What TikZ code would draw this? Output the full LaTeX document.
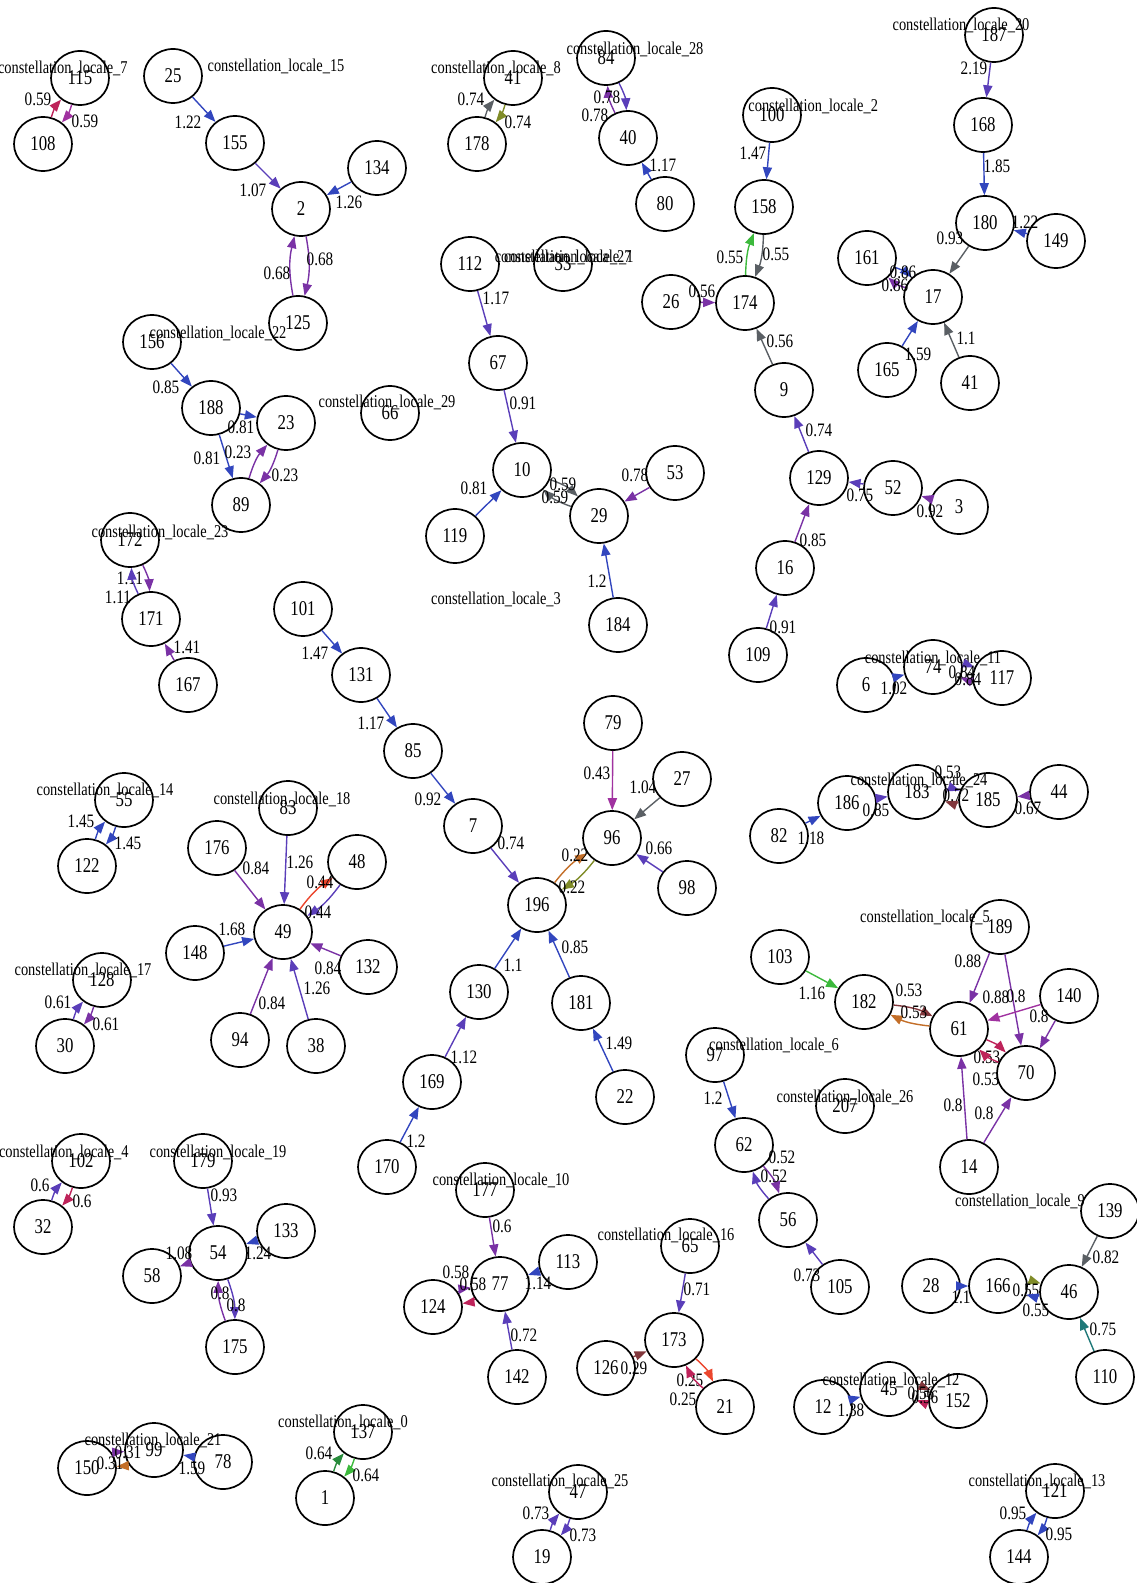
\documentclass[tikz,border=0pt]{standalone}
\usepackage{fontspec}
\setmainfont{Liberation Serif}[FakeStretch=0.8]
\usetikzlibrary{shapes.geometric,arrows.meta}
\definecolor{eblue}{RGB}{50,70,190}
\definecolor{eviolet}{RGB}{90,62,185}
\definecolor{epurple}{RGB}{122,50,165}
\definecolor{emagenta}{RGB}{160,50,160}
\definecolor{egray}{RGB}{90,95,100}
\definecolor{eolive}{RGB}{128,140,40}
\definecolor{egreen}{RGB}{60,185,60}
\definecolor{edkgreen}{RGB}{40,140,60}
\definecolor{ecrimson}{RGB}{190,35,90}
\definecolor{eorange}{RGB}{195,110,40}
\definecolor{ebrown}{RGB}{130,55,60}
\definecolor{ered}{RGB}{235,70,45}
\definecolor{eteal}{RGB}{30,120,120}
\tikzset{
  nd/.style={ellipse, draw, line width=0.85pt, minimum width=29pt, minimum height=27pt, inner sep=0pt, font=\fontsize{10.5}{11}\selectfont},
  ed/.style={line width=0.7pt, -{Triangle[length=6pt,width=4.6pt]}},
  lb/.style={inner sep=0pt, font=\fontsize{9.5}{10}\selectfont},
  cl/.style={inner sep=0pt, font=\fontsize{9}{10}\selectfont}
}
\newcommand\N[4]{\node[nd] (#1) at (#2,#3) {#4};}
\newcommand\ED[7]{\draw[ed,#3] (#1) to[#7] (#2); \node[lb] (L#1#2) at (#5,#6) {#4};}
\begin{document}
\begin{tikzpicture}[x=0.5pt,y=-0.5pt]
\useasboundingbox (0,0) rectangle (1136,1583);
% nodes
\N{n115}{80}{78}{115}
\N{n108}{43}{144}{108}
\N{n25}{173}{76}{25}
\N{n155}{235}{143}{155}
\N{n2}{301}{209}{2}
\N{n134}{377}{168}{134}
\N{n125}{298}{323}{125}
\N{n156}{152}{342}{156}
\N{n188}{211}{408}{188}
\N{n23}{286}{423}{23}
\N{n89}{241}{505}{89}
\N{n66}{390}{413}{66}
\N{n172}{130}{540}{172}
\N{n171}{151}{619}{171}
\N{n167}{188}{685}{167}
\N{n101}{303}{609}{101}
\N{n131}{361}{675}{131}
\N{n85}{413}{751}{85}
\N{n7}{473}{826}{7}
\N{n196}{537}{905}{196}
\N{n79}{613}{723}{79}
\N{n96}{612}{838}{96}
\N{n27}{682}{779}{27}
\N{n98}{687}{888}{98}
\N{n130}{479}{992}{130}
\N{n181}{581}{1003}{181}
\N{n169}{432}{1082}{169}
\N{n22}{625}{1097}{22}
\N{n170}{387}{1167}{170}
\N{n41}{513}{78}{41}
\N{n178}{477}{144}{178}
\N{n84}{606}{58}{84}
\N{n40}{628}{138}{40}
\N{n80}{665}{204}{80}
\N{n100}{772}{115}{100}
\N{n158}{764}{207}{158}
\N{n174}{745}{303}{174}
\N{n26}{671}{302}{26}
\N{n9}{784}{390}{9}
\N{n112}{470}{264}{112}
\N{n33}{563}{264}{33}
\N{n67}{498}{363}{67}
\N{n10}{522}{470}{10}
\N{n29}{599}{516}{29}
\N{n53}{675}{473}{53}
\N{n119}{455}{536}{119}
\N{n184}{618}{625}{184}
\N{n187}{994}{35}{187}
\N{n168}{983}{125}{168}
\N{n180}{985}{223}{180}
\N{n149}{1056}{241}{149}
\N{n17}{933}{297}{17}
\N{n161}{867}{258}{161}
\N{n165}{887}{370}{165}
\N{n41b}{970}{383}{41}
\N{n129}{819}{478}{129}
\N{n52}{893}{488}{52}
\N{n3}{959}{507}{3}
\N{n16}{785}{568}{16}
\N{n109}{758}{655}{109}
\N{n6}{866}{685}{6}
\N{n74}{933}{667}{74}
\N{n117}{1002}{678}{117}
\N{n55}{124}{800}{55}
\N{n122}{87}{866}{122}
\N{n83}{288}{808}{83}
\N{n176}{217}{848}{176}
\N{n48}{357}{862}{48}
\N{n49}{283}{932}{49}
\N{n148}{195}{953}{148}
\N{n132}{368}{967}{132}
\N{n94}{240}{1040}{94}
\N{n38}{316}{1046}{38}
\N{n128}{102}{980}{128}
\N{n30}{65}{1046}{30}
\N{n82}{779}{836}{82}
\N{n186}{847}{803}{186}
\N{n183}{917}{792}{183}
\N{n185}{988}{800}{185}
\N{n44}{1059}{792}{44}
\N{n189}{1000}{927}{189}
\N{n103}{780}{957}{103}
\N{n182}{864}{1002}{182}
\N{n61}{959}{1029}{61}
\N{n140}{1069}{996}{140}
\N{n70}{1026}{1073}{70}
\N{n14}{969}{1167}{14}
\N{n207}{845}{1106}{207}
\N{n97}{715}{1055}{97}
\N{n62}{744}{1145}{62}
\N{n56}{788}{1220}{56}
\N{n105}{840}{1287}{105}
\N{n102}{81}{1161}{102}
\N{n32}{43}{1227}{32}
\N{n179}{203}{1161}{179}
\N{n54}{218}{1253}{54}
\N{n133}{286}{1231}{133}
\N{n58}{152}{1276}{58}
\N{n175}{235}{1347}{175}
\N{n150}{87}{1468}{150}
\N{n99}{154}{1450}{99}
\N{n78}{223}{1462}{78}
\N{n137}{363}{1432}{137}
\N{n1}{325}{1498}{1}
\N{n177}{485}{1190}{177}
\N{n77}{500}{1284}{77}
\N{n113}{568}{1262}{113}
\N{n124}{433}{1307}{124}
\N{n142}{517}{1377}{142}
\N{n65}{690}{1246}{65}
\N{n173}{674}{1340}{173}
\N{n126}{606}{1368}{126}
\N{n21}{725}{1407}{21}
\N{n47}{578}{1492}{47}
\N{n19}{542}{1557}{19}
\N{n139}{1110}{1211}{139}
\N{n46}{1069}{1292}{46}
\N{n166}{998}{1286}{166}
\N{n28}{931}{1286}{28}
\N{n110}{1105}{1377}{110}
\N{n12}{823}{1407}{12}
\N{n45}{889}{1389}{45}
\N{n152}{958}{1401}{152}
\N{n121}{1055}{1491}{121}
\N{n144}{1019}{1557}{144}
% cluster labels
\node[cl,anchor=east] (c7) at (128,68) {constellation\_locale\_7};
\node[cl] (c15) at (276,66) {constellation\_locale\_15};
\node[cl] (c22) at (218,333) {constellation\_locale\_22};
\node[cl] (c29) at (387,402) {constellation\_locale\_29};
\node[cl] (c23) at (160,532) {constellation\_locale\_23};
\node[cl] (c8) at (496,68) {constellation\_locale\_8};
\node[cl] (c28) at (635,49) {constellation\_locale\_28};
\node[cl,anchor=west] (c2) at (748,106) {constellation\_locale\_2};
\node[cl,anchor=east] (c27) at (632,257) {constellation\_locale\_27};
\node[cl,anchor=east] (c1) at (634,257) {constellation\_locale\_1};
\node[cl] (c20) at (961,25) {constellation\_locale\_20};
\node[cl] (c3) at (496,599) {constellation\_locale\_3};
\node[cl] (c11) at (933,658) {constellation\_locale\_11};
\node[cl] (c14) at (105,790) {constellation\_locale\_14};
\node[cl] (c18) at (282,799) {constellation\_locale\_18};
\node[cl] (c17) at (83,970) {constellation\_locale\_17};
\node[cl] (c24) at (919,780) {constellation\_locale\_24};
\node[cl] (c5) at (925,917) {constellation\_locale\_5};
\node[cl] (c6) at (774,1045) {constellation\_locale\_6};
\node[cl] (c26) at (845,1097) {constellation\_locale\_26};
\node[cl,anchor=east] (c4) at (129,1152) {constellation\_locale\_4};
\node[cl] (c19) at (218,1152) {constellation\_locale\_19};
\node[cl] (c10) at (501,1180) {constellation\_locale\_10};
\node[cl] (c16) at (666,1235) {constellation\_locale\_16};
\node[cl] (c9) at (1020,1201) {constellation\_locale\_9};
\node[cl] (c21) at (153,1440) {constellation\_locale\_21};
\node[cl] (c0) at (343,1422) {constellation\_locale\_0};
\node[cl] (c12) at (891,1380) {constellation\_locale\_12};
\node[cl] (c25) at (560,1481) {constellation\_locale\_25};
\node[cl] (c13) at (1037,1481) {constellation\_locale\_13};
% edges
\ED{n108}{n115}{ecrimson}{0.59}{38}{99}{bend left=12}
\ED{n115}{n108}{emagenta}{0.59}{85}{121}{bend left=12}
\ED{n25}{n155}{eblue}{1.22}{188}{122}{}
\ED{n155}{n2}{eviolet}{1.07}{253}{190}{}
\ED{n134}{n2}{eblue}{1.26}{349}{202}{}
\ED{n125}{n2}{epurple}{0.68}{277}{273}{bend left=12}
\ED{n2}{n125}{epurple}{0.68}{320}{259}{bend left=12}
\ED{n156}{n188}{eblue}{0.85}{166}{387}{}
\ED{n188}{n23}{eblue}{0.81}{241}{427}{}
\ED{n188}{n89}{eblue}{0.81}{207}{458}{}
\ED{n89}{n23}{epurple}{0.23}{238}{452}{bend left=12}
\ED{n23}{n89}{epurple}{0.23}{285}{475}{bend left=12}
\ED{n172}{n171}{epurple}{1.11}{130}{578}{bend left=12}
\ED{n171}{n172}{eviolet}{1.11}{118}{597}{bend left=12}
\ED{n167}{n171}{epurple}{1.41}{187}{647}{}
\ED{n178}{n41}{egray}{0.74}{471}{99}{bend left=12}
\ED{n41}{n178}{eolive}{0.74}{518}{122}{bend left=12}
\ED{n40}{n84}{epurple}{0.78}{607}{97}{bend left=12}
\ED{n84}{n40}{eviolet}{0.78}{595}{115}{bend left=12}
\ED{n80}{n40}{eblue}{1.17}{663}{165}{}
\ED{n100}{n158}{eblue}{1.47}{753}{153}{}
\ED{n174}{n158}{egreen}{0.55}{730}{257}{bend left=10}
\ED{n158}{n174}{egray}{0.55}{776}{254}{bend left=10}
\ED{n26}{n174}{epurple}{0.56}{702}{291}{}
\ED{n9}{n174}{egray}{0.56}{780}{341}{}
\ED{n129}{n9}{eviolet}{0.74}{819}{430}{}
\ED{n52}{n129}{eviolet}{0.75}{860}{495}{}
\ED{n3}{n52}{epurple}{0.92}{930}{511}{}
\ED{n16}{n129}{epurple}{0.85}{813}{540}{}
\ED{n109}{n16}{eviolet}{0.91}{783}{627}{}
\ED{n187}{n168}{eviolet}{2.19}{974}{68}{}
\ED{n168}{n180}{eblue}{1.85}{997}{166}{}
\ED{n149}{n180}{eblue}{1.22}{1025}{222}{}
\ED{n180}{n17}{egray}{0.93}{950}{238}{}
\ED{n161}{n17}{eblue}{0.86}{903}{272}{bend left=12}
\ED{n17}{n161}{epurple}{0.86}{895}{285}{bend left=12}
\ED{n165}{n17}{eblue}{1.59}{918}{354}{}
\ED{n41b}{n17}{egray}{1.1}{966}{338}{}
\ED{n112}{n67}{eviolet}{1.17}{496}{298}{}
\ED{n67}{n10}{eviolet}{0.91}{523}{403}{}
\ED{n10}{n29}{egray}{0.59}{563}{484}{bend left=12}
\ED{n29}{n10}{egray}{0.59}{555}{497}{bend left=12}
\ED{n53}{n29}{epurple}{0.78}{635}{475}{}
\ED{n119}{n10}{eblue}{0.81}{474}{488}{}
\ED{n184}{n29}{eblue}{1.2}{597}{581}{}
\ED{n6}{n74}{eblue}{1.02}{894}{688}{}
\ED{n74}{n117}{eviolet}{0.84}{962}{672}{bend left=12}
\ED{n117}{n74}{epurple}{0.84}{968}{679}{bend left=12}
\ED{n122}{n55}{eblue}{1.45}{81}{821}{bend left=12}
\ED{n55}{n122}{eblue}{1.45}{128}{843}{bend left=12}
\ED{n176}{n49}{epurple}{0.84}{256}{868}{}
\ED{n83}{n49}{eviolet}{1.26}{300}{862}{}
\ED{n49}{n48}{ered}{0.44}{320}{882}{bend left=10}
\ED{n48}{n49}{eviolet}{0.44}{318}{912}{bend left=10}
\ED{n148}{n49}{eblue}{1.68}{232}{929}{}
\ED{n132}{n49}{epurple}{0.84}{328}{968}{}
\ED{n94}{n49}{epurple}{0.84}{272}{1003}{}
\ED{n38}{n49}{eviolet}{1.26}{317}{988}{}
\ED{n30}{n128}{eviolet}{0.61}{58}{1002}{bend left=12}
\ED{n128}{n30}{epurple}{0.61}{106}{1024}{bend left=12}
\ED{n101}{n131}{eblue}{1.47}{315}{653}{}
\ED{n131}{n85}{eblue}{1.17}{371}{723}{}
\ED{n85}{n7}{eblue}{0.92}{428}{799}{}
\ED{n7}{n196}{eviolet}{0.74}{511}{843}{}
\ED{n79}{n96}{emagenta}{0.43}{597}{773}{}
\ED{n27}{n96}{egray}{1.04}{643}{787}{}
\ED{n98}{n96}{eviolet}{0.66}{659}{848}{}
\ED{n196}{n96}{eorange}{0.22}{575}{855}{bend left=10}
\ED{n96}{n196}{eolive}{0.22}{572}{887}{bend left=10}
\ED{n130}{n196}{eblue}{1.1}{513}{965}{}
\ED{n181}{n196}{eblue}{0.85}{575}{947}{}
\ED{n169}{n130}{eviolet}{1.12}{464}{1057}{}
\ED{n22}{n181}{eblue}{1.49}{619}{1043}{}
\ED{n170}{n169}{eblue}{1.2}{416}{1141}{}
\ED{n82}{n186}{eblue}{1.18}{811}{838}{}
\ED{n186}{n183}{eviolet}{0.85}{876}{810}{}
\ED{n183}{n185}{eviolet}{0.53}{948}{772}{bend left=12}
\ED{n185}{n183}{ebrown}{0.72}{956}{795}{bend left=12}
\ED{n44}{n185}{epurple}{0.67}{1028}{808}{}
\ED{n103}{n182}{egreen}{1.16}{812}{993}{}
\ED{n182}{n61}{ebrown}{0.53}{909}{990}{bend left=10}
\ED{n61}{n182}{eorange}{0.53}{914}{1012}{bend left=10}
\ED{n189}{n61}{epurple}{0.88}{968}{961}{}
\ED{n189}{n70}{epurple}{0.8}{1016}{996}{}
\ED{n140}{n61}{emagenta}{0.88}{996}{997}{}
\ED{n140}{n70}{epurple}{0.8}{1039}{1016}{}
\ED{n61}{n70}{ecrimson}{0.53}{987}{1057}{bend left=12}
\ED{n70}{n61}{ecrimson}{0.53}{986}{1079}{bend left=12}
\ED{n14}{n61}{epurple}{0.8}{953}{1105}{}
\ED{n14}{n70}{epurple}{0.8}{984}{1113}{}
\ED{n97}{n62}{eblue}{1.2}{713}{1098}{}
\ED{n62}{n56}{epurple}{0.52}{782}{1157}{bend left=12}
\ED{n56}{n62}{eviolet}{0.52}{774}{1176}{bend left=12}
\ED{n105}{n56}{eviolet}{0.73}{807}{1275}{}
\ED{n32}{n102}{eviolet}{0.6}{40}{1185}{bend left=12}
\ED{n102}{n32}{ecrimson}{0.6}{82}{1201}{bend left=12}
\ED{n179}{n54}{eviolet}{0.93}{224}{1195}{}
\ED{n133}{n54}{eblue}{1.24}{258}{1253}{}
\ED{n54}{n58}{epurple}{1.08}{179}{1253}{}
\ED{n175}{n54}{epurple}{0.8}{220}{1293}{bend left=10}
\ED{n54}{n175}{eviolet}{0.8}{236}{1305}{bend left=10}
\ED{n150}{n99}{epurple}{0.31}{128}{1452}{bend left=12}
\ED{n99}{n150}{eorange}{0.31}{110}{1463}{bend left=12}
\ED{n78}{n99}{eblue}{1.59}{192}{1468}{}
\ED{n1}{n137}{edkgreen}{0.64}{319}{1453}{bend left=12}
\ED{n137}{n1}{egreen}{0.64}{366}{1475}{bend left=12}
\ED{n177}{n77}{epurple}{0.6}{502}{1226}{}
\ED{n113}{n77}{eblue}{1.14}{538}{1283}{}
\ED{n124}{n77}{epurple}{0.58}{456}{1272}{bend left=12}
\ED{n77}{n124}{ecrimson}{0.58}{473}{1284}{bend left=12}
\ED{n142}{n77}{eviolet}{0.72}{524}{1335}{}
\ED{n65}{n173}{eviolet}{0.71}{697}{1289}{}
\ED{n126}{n173}{ebrown}{0.29}{634}{1368}{}
\ED{n173}{n21}{ered}{0.25}{690}{1380}{bend left=12}
\ED{n21}{n173}{ecrimson}{0.25}{683}{1399}{bend left=12}
\ED{n19}{n47}{eviolet}{0.73}{536}{1513}{bend left=12}
\ED{n47}{n19}{eviolet}{0.73}{583}{1535}{bend left=12}
\ED{n139}{n46}{egray}{0.82}{1106}{1257}{}
\ED{n28}{n166}{eblue}{1.1}{961}{1297}{}
\ED{n166}{n46}{eolive}{0.55}{1026}{1290}{bend left=12}
\ED{n46}{n166}{eblue}{0.55}{1036}{1310}{bend left=12}
\ED{n110}{n46}{eteal}{0.75}{1103}{1329}{}
\ED{n12}{n45}{eblue}{1.38}{851}{1410}{}
\ED{n45}{n152}{ebrown}{0.56}{921}{1393}{bend left=12}
\ED{n152}{n45}{ecrimson}{0.56}{925}{1397}{bend left=12}
\ED{n144}{n121}{eblue}{0.95}{1013}{1513}{bend left=12}
\ED{n121}{n144}{eblue}{0.95}{1059}{1534}{bend left=12}
\end{tikzpicture}
\end{document}
